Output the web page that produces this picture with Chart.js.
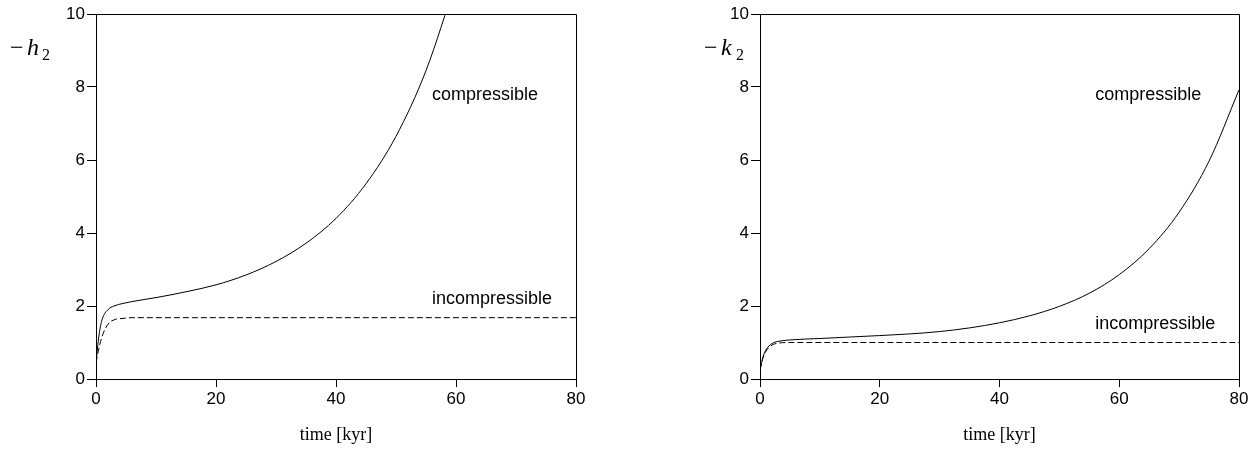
<!DOCTYPE html>
<html>
<head>
<meta charset="utf-8">
<script src="https://cdn.jsdelivr.net/npm/chart.js@4"></script>
<style>
  body { margin: 0; background: #fff; }
  .box { position: absolute; top: 0; height: 457px; }
</style>
</head>
<body>
<div class="box" style="left:0;width:600px"><canvas id="chartH"></canvas></div>
<div class="box" style="left:640px;width:619px"><canvas id="chartK"></canvas></div>
<script>
// axis ticks
var xTicks = [0, 20, 40, 60, 80]
var yTicks = [0, 2, 4, 6, 8, 10]

// -h2 (left panel)
var hCompTime = [0, 0.5, 1, 2, 3, 4.5, 7, 10, 15, 20, 25, 30, 35, 40, 45, 50, 55, 60]
var hCompVal  = [0.45, 1.2, 1.62, 1.9, 2.0, 2.07, 2.15, 2.23, 2.39, 2.58, 2.85, 3.22, 3.72, 4.4, 5.35, 6.65, 8.45, 10.9]
var hIncTime  = [0, 0.5, 1, 2, 3, 4.5, 6, 80]
var hIncVal   = [0.45, 0.85, 1.16, 1.5, 1.62, 1.66, 1.68, 1.68]

// -k2 (right panel)
var kCompTime = [0, 0.5, 1, 2, 3, 5, 10, 15, 20, 25, 30, 35, 40, 45, 50, 55, 60, 65, 70, 75, 80]
var kCompVal  = [0.25, 0.6, 0.8, 0.97, 1.03, 1.07, 1.11, 1.15, 1.19, 1.235, 1.3, 1.4, 1.54, 1.73, 1.99, 2.35, 2.86, 3.57, 4.57, 5.97, 7.92]
var kIncTime  = [0, 0.5, 1, 2, 3, 5, 80]
var kIncVal   = [0.25, 0.58, 0.76, 0.93, 0.98, 1.0, 1.0]

var labelComp = 'compressible'
var labelInc = 'incompressible'

function pts(xs, ys){
  return xs.map(function(x, i){ return {x: x, y: ys[i]} })
}

// frame, curve labels and the y-axis symbol
var notesPlugin = {
  id: 'notes',
  afterDraw: function(chart, args, opts){
    var ctx = chart.ctx
    var a = chart.chartArea
    var xs = chart.scales.x, ys = chart.scales.y
    ctx.save()
    ctx.strokeStyle = '#000'
    ctx.lineWidth = 1
    ctx.beginPath()
    ctx.moveTo(a.left, a.top + 0.5)
    ctx.lineTo(a.right + 0.5, a.top + 0.5)
    ctx.lineTo(a.right + 0.5, a.bottom)
    ctx.stroke()

    ctx.fillStyle = '#000'
    ctx.textBaseline = 'alphabetic'
    ctx.textAlign = 'left'
    ctx.font = '18px "Liberation Sans", Arial, sans-serif'
    opts.texts.forEach(function(t){
      ctx.fillText(t.text, xs.getPixelForValue(t.x), ys.getPixelForValue(t.y))
    })

    // -h2 / -k2
    var s = opts.sym
    ctx.font = '24px "Liberation Serif", serif'
    ctx.fillText('\u2212', s.x, 55)
    ctx.font = 'italic 24px "Liberation Serif", serif'
    ctx.fillText(s.letter, s.x + 17, 55)
    ctx.font = '16px "Liberation Serif", serif'
    ctx.fillText('2', s.x + 32, 60)
    ctx.restore()
  }
}

function makeChart(id, comp, inc, yAxisWidth, padRight, notes){
  var ctx = document.getElementById(id).getContext('2d')
  return new Chart(ctx, {
    type: 'line',
    data: {
      datasets: [
        { data: comp, borderColor: '#000', borderWidth: 1, pointRadius: 0, fill: false,
          cubicInterpolationMode: 'monotone' },
        { data: inc, borderColor: '#000', borderWidth: 1, pointRadius: 0, fill: false,
          borderDash: [6, 3], cubicInterpolationMode: 'monotone' }
      ]
    },
    options: {
      responsive: true,
      maintainAspectRatio: false,
      animation: false,
      layout: { padding: { left: 0, top: 14, right: padRight, bottom: 0 } },
      plugins: {
        legend: { display: false },
        tooltip: { enabled: false },
        notes: notes
      },
      scales: {
        x: {
          type: 'linear', min: 0, max: 80,
          afterBuildTicks: function(s){ s.ticks = xTicks.map(function(v){ return {value: v} }) },
          afterFit: function(s){ s.height = 78 },
          grid: { drawOnChartArea: false, tickLength: 8, color: '#000' },
          border: { color: '#000', width: 1 },
          ticks: { color: '#000', padding: 2, maxRotation: 0,
            font: { family: '"Liberation Sans", Arial, sans-serif', size: 17 } },
          title: { display: true, text: 'time [kyr]', color: '#000',
            padding: { top: 0, bottom: 11 },
            font: { family: '"Liberation Serif", serif', size: 18 } }
        },
        y: {
          type: 'linear', min: 0, max: 10,
          afterBuildTicks: function(s){ s.ticks = yTicks.map(function(v){ return {value: v} }) },
          afterFit: function(s){ s.width = yAxisWidth },
          grid: { drawOnChartArea: false, tickLength: 9, color: '#000' },
          border: { color: '#000', width: 1 },
          ticks: { color: '#000', padding: 2,
            font: { family: '"Liberation Sans", Arial, sans-serif', size: 17 } }
        }
      }
    },
    plugins: [notesPlugin]
  })
}

makeChart('chartH', pts(hCompTime, hCompVal), pts(hIncTime, hIncVal), 96, 24, {
  texts: [ {text: labelComp, x: 56, y: 7.64}, {text: labelInc, x: 56, y: 2.05} ],
  sym: { x: 10, letter: 'h' }
})
makeChart('chartK', pts(kCompTime, kCompVal), pts(kIncTime, kIncVal), 120, 20, {
  texts: [ {text: labelComp, x: 56, y: 7.64}, {text: labelInc, x: 56, y: 1.37} ],
  sym: { x: 64, letter: 'k' }
})
</script>
</body>
</html>
